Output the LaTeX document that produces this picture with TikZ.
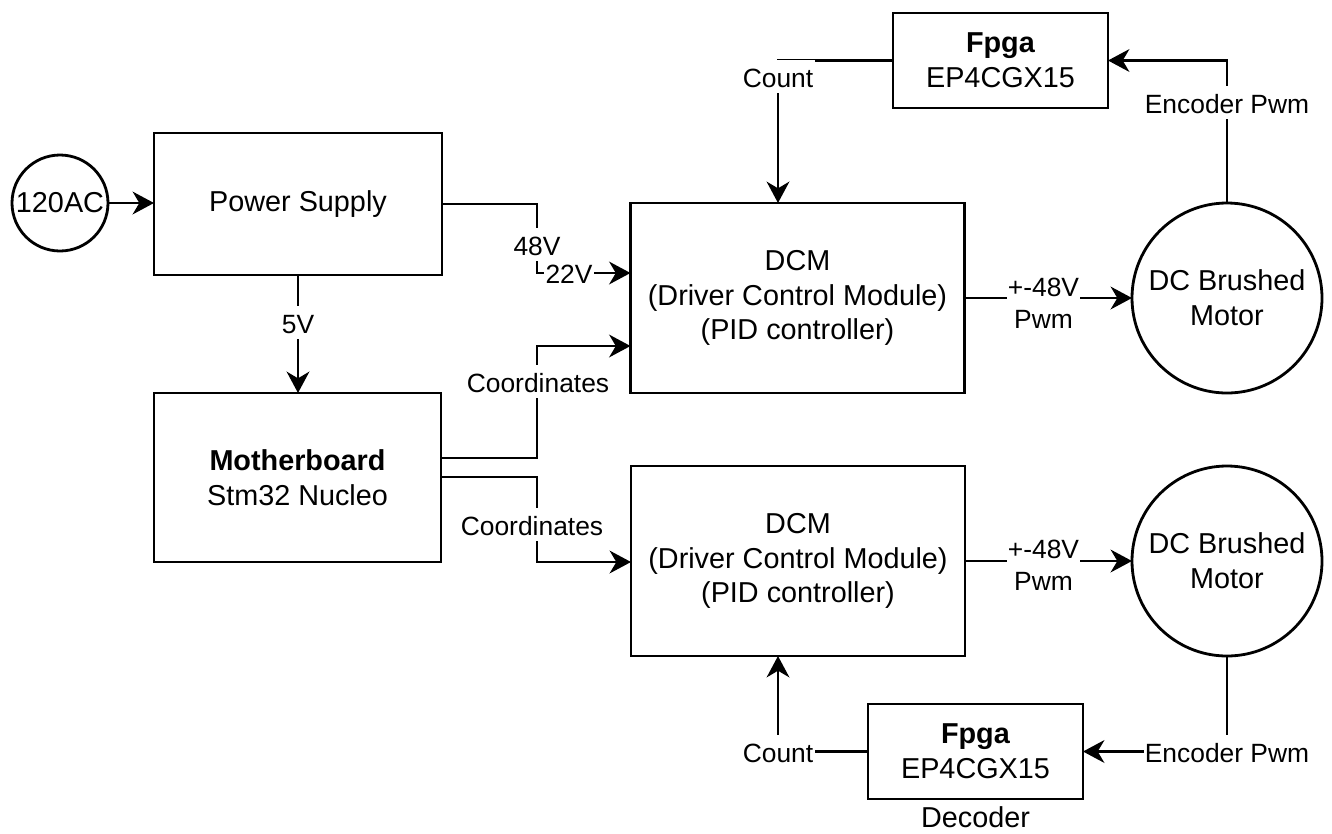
\documentclass[tikz,border=0pt]{standalone}
\usepackage{fontspec}
\setmainfont{Liberation Sans}
\usetikzlibrary{arrows.meta}
\newcommand\blockfont{\fontsize{21.6}{26}\selectfont}
\newcommand\wirefont{\fontsize{19.8}{23.8}\selectfont}

\begin{document}
\begin{tikzpicture}[x=0.75pt,y=-0.75pt,
  wire/.style={line width=2.1pt, line join=miter},
  arr/.style={wire, -{Stealth[length=16pt,width=17pt,inset=5pt]}},
  box/.style={draw, line width=2.1pt, fill=white, inner sep=2pt, outer sep=0pt,
              align=center, font=\blockfont},
  dcmbox/.style={box, minimum width=250.5pt, minimum height=142.5pt},
  fpgabox/.style={box, minimum width=161.25pt, minimum height=71.25pt},
  disc/.style={box, circle, inner sep=0pt},
  lbl/.style={fill=white, inner xsep=1pt, inner ysep=0pt, text height=20pt,
              text depth=4.5pt, anchor=base, font=\wirefont},
  lbltwo/.style={fill=white, inner xsep=1pt, inner ysep=2pt, align=center,
                 font=\wirefont},
]
\useasboundingbox (0,0) rectangle (1332,833);

% blocks
\node[disc, minimum size=72pt] (ac) at (60,203) {120AC};
\node[box, minimum width=216pt, minimum height=106.5pt] (ps) at (298,204) {Power Supply};
\node[box, minimum width=215.25pt, minimum height=126.75pt] (mb) at (297.5,477.5)
  {\textbf{Motherboard}\\Stm32 Nucleo};
\node[dcmbox] (dcm1) at (797.5,298) {DCM\\(Driver Control Module)\\(PID controller)};
\node[dcmbox] (dcm2) at (798,561) {DCM\\(Driver Control Module)\\(PID controller)};
\node[disc, minimum size=142.5pt] (mot1) at (1227,298) {DC Brushed\\Motor};
\node[disc, minimum size=142.5pt] (mot2) at (1227,561) {DC Brushed\\Motor};
\node[fpgabox] (fp1) at (1000.5,60.5) {\textbf{Fpga}\\EP4CGX15};
\node[fpgabox] (fp2) at (975.5,751.5) {\textbf{Fpga}\\EP4CGX15};
\node[anchor=base, font=\blockfont, inner sep=0pt] (ldec) at (975.5,827) {Decoder};

% bend points
\coordinate (v22) at (537,273);
\coordinate (c1a) at (537,458);
\coordinate (c1b) at (537,346);
\coordinate (c2a) at (537,477);
\coordinate (c2b) at (537,562);
\coordinate (k1) at (778,60.5);
\coordinate (e1) at (1227,60.5);
\coordinate (k2) at (778,751.5);
\coordinate (e2) at (1227,751.5);

% connectors
\draw[arr] (ac.east) -- (ac.east -| ps.west);
\draw[arr] (ps.east) -| (v22) -- (v22 -| dcm1.west);
\draw[arr] (ps.south) -- (ps.south |- mb.north);
\draw[arr] (c1a -| mb.east) -- (c1a) -- (c1b) -- (c1b -| dcm1.west);
\draw[arr] (c2a -| mb.east) -- (c2a) -- (c2b) -- (c2b -| dcm2.west);
\draw[arr] (dcm1.east) -- (mot1.west);
\draw[arr] (dcm2.east) -- (mot2.west);
\draw[arr] (fp1.west) -- (k1) -- (k1 |- dcm1.north);
\draw[arr] (mot1.north) -- (e1) -- (fp1.east);
\draw[arr] (fp2.west) -- (k2) -- (k2 |- dcm2.south);
\draw[arr] (mot2.south) -- (e2) -- (fp2.east);

% connector labels
\node[lbl] (l48) at (537,255) {48V};
\node[lbl] (l22) at (569,283) {22V};
\node[lbl] (l5) at (298,333) {5V};
\node[lbl] (lco1) at (538,392) {Coordinates};
\node[lbl] (lco2) at (532,535) {Coordinates};
\node[lbltwo] (lpw1) at (1043.5,303) {+-48V\\Pwm};
\node[lbltwo] (lpw2) at (1043.5,565) {+-48V\\Pwm};
\node[lbl] (lct1) at (778,87) {Count};
\node[lbl] (len1) at (1227,113) {Encoder Pwm};
\node[lbl] (lct2) at (778,762) {Count};
\node[lbl] (len2) at (1227,762) {Encoder Pwm};
\end{tikzpicture}
\end{document}
